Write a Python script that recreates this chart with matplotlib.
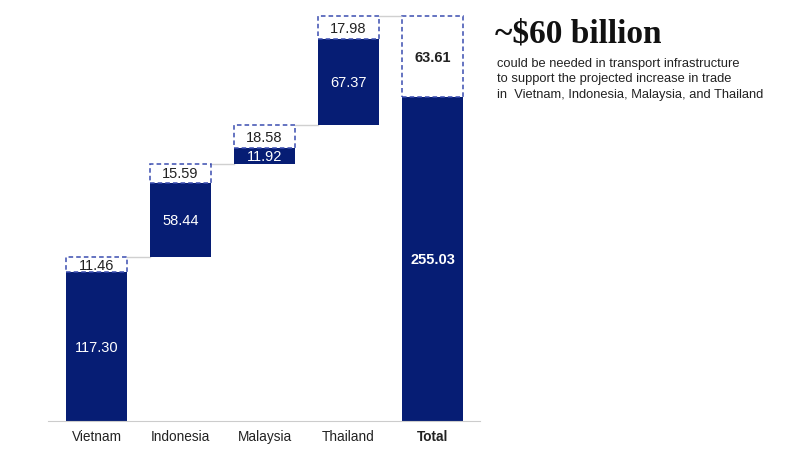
import matplotlib.pyplot as plt
import numpy as np

plt.rcParams["font.family"] = ["Liberation Sans", "DejaVu Sans"]

categories = ["Vietnam", "Indonesia", "Malaysia", "Thailand", "Total"]
current = [117.30, 58.44, 11.92, 67.37, 255.03]
needed = [11.46, 15.59, 18.58, 17.98, 63.61]

navy = "#061d74"
dash_col = "#3b4db0"

fig = plt.figure(figsize=(8.08, 4.52), dpi=100)
ax = fig.add_axes([0.0594, 0.0664, 0.5347, 0.927])

x = np.arange(len(categories))
width = 0.726

# waterfall bases: each country starts where the previous one ends, total starts at zero
bases = []
run = 0.0
for i in range(len(categories) - 1):
    bases.append(run)
    run += current[i] + needed[i]
bases.append(0.0)

for i in range(len(categories)):
    b = bases[i]
    c = current[i]
    n = needed[i]
    bold = "bold" if categories[i] == "Total" else "normal"
    ax.bar(x[i], c, width, bottom=b, color=navy, zorder=2)
    ax.bar(x[i], n, width, bottom=b + c, facecolor="white", edgecolor=dash_col,
           linestyle=(0, (3, 2)), linewidth=1.1, zorder=2)
    ax.text(x[i], b + c / 2, f"{c:.2f}", ha="center", va="center", color="white",
            fontsize=10.5, fontweight=bold, zorder=3)
    ax.text(x[i], b + c + n / 2, f"{n:.2f}", ha="center", va="center", color="#222222",
            fontsize=10.5, fontweight=bold, zorder=3)
    # connector to next bar
    if i < len(categories) - 1:
        top = b + c + n
        ax.plot([x[i] + width / 2, x[i + 1] - width / 2], [top, top],
                color="#d0d0d0", linewidth=1, zorder=1)

ax.set_xlim(-0.577, 4.565)
ax.set_ylim(0, 330)
ax.set_xticks(x)
ax.set_xticklabels(categories, fontsize=9.8, color="#222222")
ax.get_xticklabels()[-1].set_fontweight("bold")
ax.tick_params(axis="x", length=0, pad=6)
ax.set_yticks([])
for s in ["top", "right", "left"]:
    ax.spines[s].set_visible(False)
ax.spines["bottom"].set_color("#cccccc")

fig.text(0.613, 0.907, "~$60 billion", fontsize=24, fontweight="bold",
         family="Liberation Serif", color="#111111", va="baseline")
fig.text(0.615, 0.783, "could be needed in transport infrastructure\n"
         "to support the projected increase in trade\n"
         "in  Vietnam, Indonesia, Malaysia, and Thailand",
         fontsize=9.3, color="#222222", va="baseline", linespacing=1.4)

fig.savefig("out.png", dpi=100)
